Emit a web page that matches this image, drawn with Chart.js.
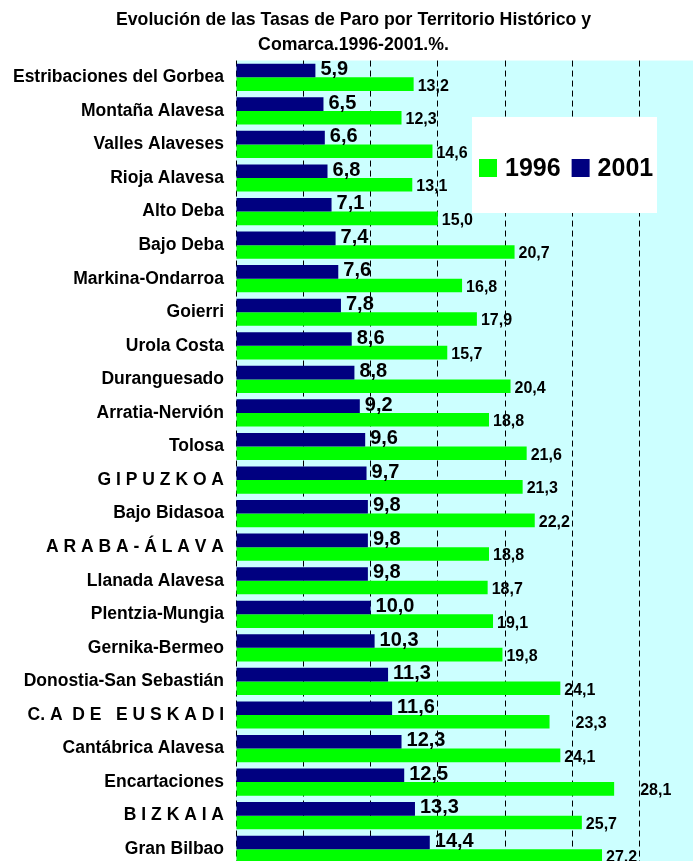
<!DOCTYPE html>
<html>
<head>
<meta charset="utf-8">
<script src="https://cdn.jsdelivr.net/npm/chart.js@4/dist/chart.umd.min.js"></script>
<style>
  html, body { margin: 0; padding: 0; background: #ffffff; overflow: hidden; }
  #wrap { width: 693px; height: 861px; overflow: hidden; position: relative; }
  canvas { display: block; }
</style>
</head>
<body>
<div id="wrap"><canvas id="c" width="707" height="866"></canvas></div>
<script>
const categories = [
  "Estribaciones del Gorbea", "Montaña Alavesa", "Valles Alaveses", "Rioja Alavesa",
  "Alto Deba", "Bajo Deba", "Markina-Ondarroa", "Goierri", "Urola Costa",
  "Duranguesado", "Arratia-Nervión", "Tolosa", "G I P U Z K O A", "Bajo Bidasoa",
  "A R A B A - Á L A V A", "Llanada Alavesa", "Plentzia-Mungia", "Gernika-Bermeo",
  "Donostia-San Sebastián", "C. A  D E   E U S K A D I", "Cantábrica Alavesa",
  "Encartaciones", "B I Z K A I A", "Gran Bilbao"
];
const rates2001 = [5.9, 6.5, 6.6, 6.8, 7.1, 7.4, 7.6, 7.8, 8.6, 8.8, 9.2, 9.6, 9.7, 9.8, 9.8, 9.8, 10.0, 10.3, 11.3, 11.6, 12.3, 12.5, 13.3, 14.4];
const rates1996 = [13.2, 12.3, 14.6, 13.1, 15.0, 20.7, 16.8, 17.9, 15.7, 20.4, 18.8, 21.6, 21.3, 22.2, 18.8, 18.7, 19.1, 19.8, 24.1, 23.3, 24.1, 28.1, 25.7, 27.2];
const seriesNames = ["2001", "1996"];
const titleLines = ["Evolución de las Tasas de Paro por Territorio Histórico y", "Comarca.1996-2001.%."];

const NAVY = "#000080";
const GREEN = "#00FF00";
const FONT = "'Liberation Sans', Arial, sans-serif";

const fmt = v => v.toFixed(1).replace('.', ',');

const bgPlugin = {
  id: 'plotBg',
  beforeDraw(chart) {
    const a = chart.chartArea, ctx = chart.ctx;
    ctx.save();
    ctx.fillStyle = '#CCFFFF';
    ctx.fillRect(a.left, a.top, a.right - a.left, a.bottom - a.top);
    ctx.restore();
  }
};

// a few 1996 labels sit further right in the original (label-collision nudges)
const labelNudge1996 = { 19: 22, 21: 22 };

const labelPlugin = {
  id: 'valueLabels',
  afterDatasetsDraw(chart) {
    const ctx = chart.ctx;
    ctx.save();
    ctx.fillStyle = '#000';
    ctx.textAlign = 'left';
    ctx.textBaseline = 'middle';
    chart.data.datasets.forEach((ds, di) => {
      const meta = chart.getDatasetMeta(di);
      meta.data.forEach((el, i) => {
        const v = ds.data[i];
        if (di === 0) {
          ctx.font = "bold 20px " + FONT;
          ctx.fillText(fmt(v), el.x + 5, el.y - 1);
        } else {
          ctx.font = "bold 16px " + FONT;
          const nudge = labelNudge1996[i] || 0;
          ctx.fillText(fmt(v), el.x + 4 + nudge, el.y + 2);
        }
      });
    });
    ctx.restore();
  }
};

const legendPlugin = {
  id: 'boxLegend',
  afterDraw(chart) {
    const ctx = chart.ctx;
    const bx = 472, by = 117, bw = 185, bh = 96;
    ctx.save();
    ctx.fillStyle = '#FFFFFF';
    ctx.fillRect(bx, by, bw, bh);
    const items = [
      { color: GREEN, text: seriesNames[1] },
      { color: NAVY, text: seriesNames[0] }
    ];
    ctx.font = "bold 25px " + FONT;
    ctx.textBaseline = 'middle';
    ctx.textAlign = 'left';
    let x = bx + 7;
    const cy = by + 51;
    items.forEach(it => {
      ctx.fillStyle = it.color;
      ctx.fillRect(x, cy - 9, 18, 18);
      ctx.fillStyle = '#000';
      ctx.fillText(it.text, x + 26, cy + 1);
      x += 26 + ctx.measureText(it.text).width + 11;
    });
    ctx.restore();
  }
};

new Chart(document.getElementById('c'), {
  type: 'bar',
  data: {
    labels: categories,
    datasets: [
      { label: seriesNames[0], data: rates2001, backgroundColor: NAVY, borderWidth: 0,
        categoryPercentage: 0.81, barPercentage: 1.0 },
      { label: seriesNames[1], data: rates1996, backgroundColor: GREEN, borderWidth: 0,
        categoryPercentage: 0.81, barPercentage: 1.0 }
    ]
  },
  options: {
    indexAxis: 'y',
    responsive: false,
    animation: false,
    layout: { padding: 0 },
    plugins: {
      legend: { display: false },
      tooltip: { enabled: false },
      title: {
        display: true,
        text: titleLines,
        color: '#000',
        font: { family: FONT, size: 17.7, weight: 'bold', lineHeight: 1.4 },
        padding: { top: 8, bottom: 3 }
      }
    },
    scales: {
      x: {
        min: 0, max: 35,
        ticks: { display: false, stepSize: 5 },
        grid: { drawTicks: false, color: '#000' },
        border: { display: true, color: 'rgba(0,0,0,0)', width: 0, dash: [6, 4] },
        afterFit(scale) { scale.height = 0; }
      },
      y: {
        ticks: {
          color: '#000', autoSkip: false, padding: 12,
          font: { family: FONT, size: 17.5, weight: 'bold' }
        },
        grid: { display: false, drawTicks: false },
        border: { display: false },
        afterFit(scale) { scale.width = 236; scale.paddingTop = 0; scale.paddingBottom = 0; }
      }
    }
  },
  plugins: [bgPlugin, labelPlugin, legendPlugin]
});
</script>
</body>
</html>
